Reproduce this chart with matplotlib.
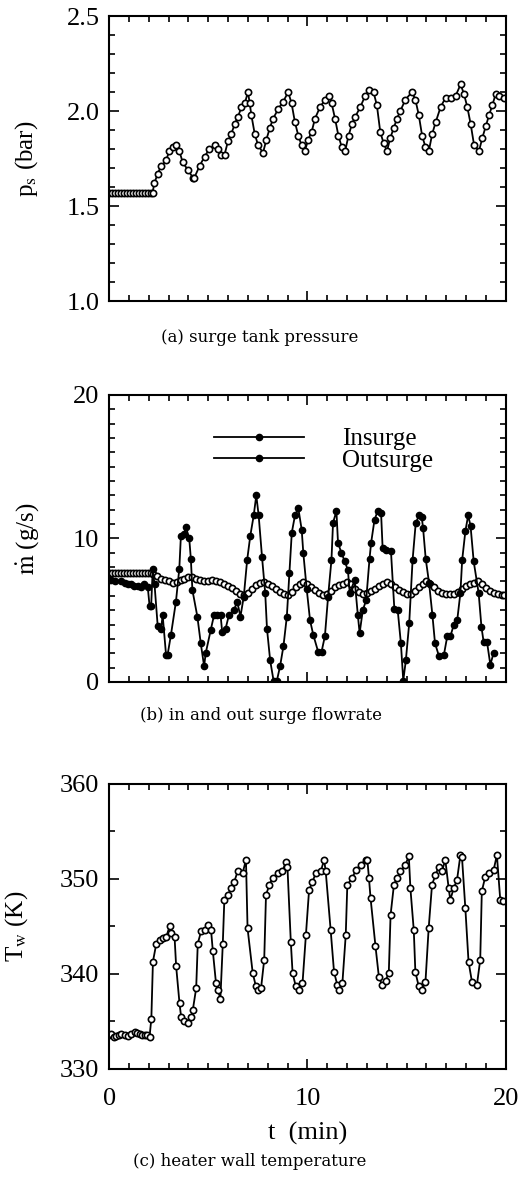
import matplotlib
matplotlib.use("Agg")
import matplotlib.pyplot as plt
from matplotlib.lines import Line2D
from matplotlib.ticker import MultipleLocator, FormatStrFormatter

plt.rcParams["font.family"] = "serif"
plt.rcParams["font.serif"] = ["Liberation Serif", "DejaVu Serif"]
plt.rcParams["mathtext.fontset"] = "stix"

# (a) surge tank pressure
ps_t = [0.0, 0.15, 0.3, 0.45, 0.6, 0.75, 0.9, 1.05, 1.2, 1.35, 1.5, 1.65, 1.8, 1.95, 2.1, 2.19,
        2.28, 2.45, 2.62, 2.87, 3.04, 3.21, 3.38, 3.54, 3.71, 3.97, 4.22, 4.3, 4.56, 4.81,
        5.06, 5.32, 5.49, 5.65, 5.82, 5.99, 6.16, 6.33, 6.5, 6.67, 6.84, 7.0, 7.09, 7.17,
        7.34, 7.51, 7.76, 7.93, 8.1, 8.27, 8.52, 8.78, 9.03, 9.2, 9.37, 9.54, 9.7, 9.87,
        10.04, 10.21, 10.38, 10.63, 10.89, 11.11, 11.22, 11.39, 11.56, 11.73, 11.9, 12.07,
        12.24, 12.41, 12.66, 12.91, 13.08, 13.33, 13.5, 13.67, 13.84, 14.01, 14.18, 14.35,
        14.51, 14.68, 14.94, 15.27, 15.44, 15.61, 15.78, 15.95, 16.12, 16.29, 16.46, 16.71,
        16.96, 17.22, 17.47, 17.72, 17.89, 18.06, 18.23, 18.4, 18.65, 18.82, 18.99, 19.16,
        19.32, 19.49, 19.66, 19.92]
ps_val = [1.57, 1.57, 1.57, 1.57, 1.57, 1.57, 1.57, 1.57, 1.57, 1.57, 1.57, 1.57, 1.57, 1.57, 1.57, 1.57,
          1.62, 1.67, 1.71, 1.74, 1.79, 1.81, 1.82, 1.79, 1.73, 1.69, 1.65, 1.65, 1.71, 1.76,
          1.80, 1.82, 1.80, 1.77, 1.77, 1.84, 1.88, 1.93, 1.97, 2.02, 2.04, 2.10, 2.04, 1.98,
          1.88, 1.82, 1.78, 1.85, 1.91, 1.96, 2.01, 2.05, 2.10, 2.04, 1.94, 1.87, 1.82, 1.79,
          1.85, 1.89, 1.96, 2.02, 2.06, 2.08, 2.04, 1.96, 1.87, 1.81, 1.79, 1.87,
          1.93, 1.97, 2.02, 2.08, 2.11, 2.10, 2.03, 1.89, 1.83, 1.79, 1.86, 1.91,
          1.96, 2.00, 2.06, 2.10, 2.06, 1.98, 1.87, 1.81, 1.79, 1.88, 1.94, 2.02,
          2.07, 2.07, 2.08, 2.14, 2.09, 2.02, 1.93, 1.82, 1.79, 1.86, 1.92, 1.98,
          2.03, 2.09, 2.08, 2.07]

# (b) insurge / outsurge flowrate
in_t = [0.0, 0.12, 0.3, 0.62, 0.8, 0.95, 1.1, 1.28, 1.45, 1.62, 1.78, 1.95, 2.04, 2.12, 2.2,
        2.29, 2.45, 2.62, 2.7, 2.87, 2.95, 3.12, 3.37, 3.54, 3.62, 3.78, 3.87, 4.04, 4.12,
        4.2, 4.45, 4.62, 4.79, 4.87, 5.12, 5.29, 5.45, 5.62, 5.7, 5.87, 6.04, 6.29, 6.46,
        6.62, 6.79, 6.96, 7.12, 7.29, 7.42, 7.54, 7.71, 7.87, 7.96, 8.12, 8.29, 8.46, 8.62,
        8.79, 8.96, 9.09, 9.21, 9.37, 9.54, 9.71, 9.79, 9.96, 10.13, 10.29, 10.54, 10.71,
        10.88, 11.04, 11.21, 11.29, 11.46, 11.54, 11.71, 11.88, 12.04, 12.13, 12.38, 12.54,
        12.63, 12.79, 12.96, 13.13, 13.21, 13.38, 13.54, 13.71, 13.79, 13.96, 14.21, 14.38,
        14.55, 14.71, 14.83, 14.96, 15.13, 15.3, 15.46, 15.63, 15.76, 15.83, 15.96, 16.13,
        16.3, 16.43, 16.63, 16.88, 17.05, 17.21, 17.38, 17.55, 17.71, 17.8, 17.96, 18.1,
        18.22, 18.38, 18.63, 18.77, 18.88, 19.05, 19.22, 19.38]
in_val = [7.1, 7.1, 7.0, 7.0, 6.9, 6.8, 6.8, 6.7, 6.7, 6.6, 6.8, 6.6, 5.3, 5.3, 7.85,
          6.8, 3.9, 3.7, 4.65, 1.9, 1.9, 3.3, 5.6, 7.9, 10.2, 10.3, 10.8, 10.0, 8.6,
          6.4, 4.55, 2.7, 1.1, 2.0, 3.6, 4.65, 4.65, 4.65, 3.5, 3.7, 4.65, 5.0, 5.6,
          4.55, 5.95, 8.5, 10.2, 11.6, 13.0, 11.6, 8.7, 6.2, 3.7, 1.5, 0.1, 0.1, 1.1,
          2.5, 4.55, 7.6, 10.4, 11.6, 12.1, 10.6, 9.0, 6.5, 4.3, 3.3, 2.1, 2.1,
          3.2, 5.95, 8.5, 11.1, 11.9, 9.7, 9.0, 8.4, 7.8, 6.2, 7.1, 4.65,
          3.4, 5.0, 5.7, 8.6, 9.7, 11.3, 11.9, 11.8, 9.3, 9.2, 9.1, 5.1,
          5.0, 2.7, 0.1, 1.5, 4.1, 8.5, 11.1, 11.6, 11.5, 10.7, 8.6, 6.9,
          4.65, 2.7, 1.8, 1.9, 3.2, 3.2, 4.0, 4.3, 6.2, 8.5, 10.5, 11.6,
          10.9, 8.4, 6.2, 3.85, 2.8, 2.8, 1.2, 2.0]

out_t = [0.0, 0.15, 0.3, 0.45, 0.6, 0.75, 0.9, 1.05, 1.2, 1.35, 1.5, 1.65, 1.8, 1.95, 2.1,
         2.2, 2.4, 2.6, 2.8, 3.0, 3.2, 3.4, 3.6, 3.8, 4.0, 4.2, 4.4, 4.6, 4.8, 5.0, 5.2,
         5.4, 5.6, 5.8, 6.0, 6.2, 6.4, 6.6, 6.8, 7.0, 7.2, 7.4, 7.6, 7.8, 8.0, 8.2, 8.4,
         8.6, 8.8, 9.0, 9.2, 9.4, 9.6, 9.8, 10.0, 10.2, 10.4, 10.6, 10.8, 11.0, 11.2, 11.4,
         11.6, 11.8, 12.0, 12.2, 12.4, 12.6, 12.8, 13.0, 13.2, 13.4, 13.6, 13.8, 14.0, 14.2,
         14.4, 14.6, 14.8, 15.0, 15.2, 15.4, 15.6, 15.8, 16.0, 16.2, 16.4, 16.6, 16.8, 17.0,
         17.2, 17.4, 17.6, 17.8, 18.0, 18.2, 18.4, 18.6, 18.8, 19.0, 19.2, 19.4, 19.6, 19.8,
         19.9]
out_val = [7.6, 7.6, 7.6, 7.6, 7.6, 7.6, 7.6, 7.6, 7.6, 7.6, 7.6, 7.6, 7.6, 7.6, 7.6,
           7.5, 7.35, 7.2, 7.1, 7.0, 6.9, 6.95, 7.1, 7.2, 7.3, 7.3, 7.2, 7.1, 7.0, 7.05, 7.1,
           7.0, 6.95, 6.85, 6.7, 6.55, 6.35, 6.15, 6.05, 6.2, 6.5, 6.75, 6.9, 6.95, 6.85, 6.7, 6.5,
           6.3, 6.1, 6.05, 6.3, 6.6, 6.85, 6.95, 6.8, 6.6, 6.4, 6.2, 6.05, 6.1, 6.35, 6.6,
           6.75, 6.85, 6.95, 6.8, 6.5, 6.25, 6.15, 6.2, 6.35, 6.5, 6.7, 6.85, 6.95, 6.85,
           6.65, 6.4, 6.25, 6.1, 6.1, 6.35, 6.6, 6.85, 7.0, 6.85, 6.6, 6.35, 6.2, 6.15,
           6.1, 6.15, 6.3, 6.5, 6.7, 6.85, 6.9, 7.0, 6.8, 6.55, 6.35, 6.2, 6.1, 6.05,
           6.05]

# (c) heater wall temperature
tw_t = [0.0, 0.12, 0.25, 0.37, 0.5, 0.62, 0.78, 0.95, 1.12, 1.29, 1.42, 1.54, 1.67, 1.79, 1.92,
        2.04, 2.13, 2.21, 2.38, 2.55, 2.71, 2.88, 3.05, 3.13, 3.3, 3.38, 3.55, 3.63, 3.8, 3.97,
        4.14, 4.22, 4.39, 4.47, 4.64, 4.81, 4.97, 5.14, 5.23, 5.39, 5.48, 5.61, 5.73, 5.81,
        5.98, 6.15, 6.31, 6.48, 6.73, 6.9, 6.98, 7.24, 7.4, 7.49, 7.66, 7.82, 7.91, 8.08,
        8.24, 8.49, 8.74, 8.91, 8.99, 9.16, 9.25, 9.41, 9.58, 9.75, 9.92, 10.08, 10.25,
        10.42, 10.67, 10.84, 10.92, 11.17, 11.34, 11.51, 11.59, 11.76, 11.93, 12.01, 12.26,
        12.43, 12.68, 12.93, 13.02, 13.1, 13.18, 13.43, 13.6, 13.77, 13.94, 14.1, 14.19,
        14.36, 14.52, 14.69, 14.94, 15.11, 15.19, 15.36, 15.44, 15.61, 15.78, 15.95, 16.11,
        16.28, 16.45, 16.62, 16.78, 16.95, 17.12, 17.2, 17.37, 17.54, 17.71, 17.79, 17.96,
        18.12, 18.29, 18.54, 18.71, 18.79, 18.96, 19.13, 19.38, 19.55, 19.72, 19.88]
tw_val = [333.6, 333.7, 333.4, 333.5, 333.6, 333.7, 333.6, 333.5, 333.7, 333.9, 333.8, 333.7, 333.6, 333.6, 333.6,
          333.4, 335.3, 341.3, 343.2, 343.6, 343.8, 343.9, 345.0, 344.3, 343.9, 340.8, 336.9, 335.5, 335.0, 334.8,
          335.5, 336.2, 338.5, 343.2, 344.5, 344.6, 345.2, 344.6, 342.4, 339.0, 338.3, 337.4, 343.1, 347.8,
          348.3, 349.0, 349.7, 350.8, 350.6, 352.0, 344.8, 340.1, 338.7, 338.3, 338.5, 341.5, 348.3, 349.4,
          350.1, 350.6, 350.8, 351.8, 351.3, 343.4, 340.1, 338.7, 338.3, 339.0, 344.1, 348.8, 349.7,
          350.6, 350.8, 352.0, 350.8, 344.6, 340.2, 338.8, 338.3, 339.0, 344.1, 349.4, 350.1,
          350.9, 351.5, 352.0, 352.0, 350.1, 348.0, 342.9, 339.7, 338.8, 339.3, 340.1, 346.2,
          349.4, 350.1, 350.8, 351.5, 352.4, 349.0, 344.6, 340.2, 338.7, 338.3, 339.2, 344.8,
          349.4, 350.4, 351.3, 350.8, 352.0, 349.0, 347.8, 349.0, 349.9, 352.5, 352.3, 346.9,
          341.3, 339.2, 338.8, 341.5, 348.7, 350.2, 350.6, 350.9, 352.5, 347.8, 347.7]

open_style = dict(color="black", lw=1.3, marker="o", ms=4.5, mfc="white", mec="black", mew=1.2)

fig = plt.figure(figsize=(5.22, 11.86), dpi=100)
ax1 = fig.add_axes([0.209, 0.7462, 0.760, 0.2403])
ax2 = fig.add_axes([0.209, 0.4250, 0.760, 0.2420])
ax3 = fig.add_axes([0.209, 0.0987, 0.760, 0.2403])


def style(ax, ymin, ymax, major, minor):
    ax.set_xlim(0, 20)
    ax.set_ylim(ymin, ymax)
    ax.xaxis.set_major_locator(MultipleLocator(10))
    ax.xaxis.set_minor_locator(MultipleLocator(1))
    ax.yaxis.set_major_locator(MultipleLocator(major))
    ax.yaxis.set_minor_locator(MultipleLocator(minor))
    ax.tick_params(which="both", direction="in", top=True, right=True, labelsize=19, width=1.2)
    ax.tick_params(which="major", length=7)
    ax.tick_params(which="minor", length=4)
    ax.tick_params(axis="y", which="major", pad=7)
    ax.tick_params(axis="x", which="major", pad=14)
    for s in ax.spines.values():
        s.set_linewidth(1.5)


ax1.plot(ps_t, ps_val, **open_style)
style(ax1, 1.0, 2.5, 0.5, 0.1)
ax1.yaxis.set_major_formatter(FormatStrFormatter("%.1f"))
ax1.tick_params(labelbottom=False)
ax1.set_ylabel(r"p$_\mathrm{s}$ (bar)", fontsize=18)
ax1.yaxis.set_label_coords(-0.175, 0.5)

ax2.plot(out_t, out_val, **open_style)
ax2.plot(in_t, in_val, color="black", lw=1.3, marker="o", ms=4.5, mfc="black", mec="black")
style(ax2, 0, 20, 10, 1)
ax2.tick_params(labelbottom=False)
ax2.set_ylabel(r"$\dot{\mathrm{m}}$ (g/s)", fontsize=18)
ax2.yaxis.set_label_coords(-0.170, 0.5)
handles = [Line2D([], [], color="black", lw=1.3, marker="o", ms=4.5, mfc="black"),
           Line2D([], [], color="black", lw=1.3, marker="o", ms=4.5, mfc="black")]
ax2.legend(handles, ["Insurge", "Outsurge"], loc="upper left", bbox_to_anchor=(0.265, 0.885),
           frameon=False, fontsize=18, handlelength=3.6, handletextpad=1.5, labelspacing=-0.05,
           borderpad=0, borderaxespad=0, numpoints=1)

ax3.plot(tw_t, tw_val, **open_style)
style(ax3, 330, 360, 10, 5)
ax3.set_ylabel(r"T$_\mathrm{w}$ (K)", fontsize=18)
ax3.yaxis.set_label_coords(-0.200, 0.5)
ax3.set_xlabel("t  (min)", fontsize=19, labelpad=8)

cap = dict(ha="center", va="center", fontsize=12, family="DejaVu Serif")
fig.text(0.498, 1 - 337 / 1186, "(a) surge tank pressure", **cap)
fig.text(0.500, 1 - 716 / 1186, "(b) in and out surge flowrate", **cap)
fig.text(0.479, 1 - 1162 / 1186, "(c) heater wall temperature", **cap)

fig.savefig("out.png", dpi=100)
